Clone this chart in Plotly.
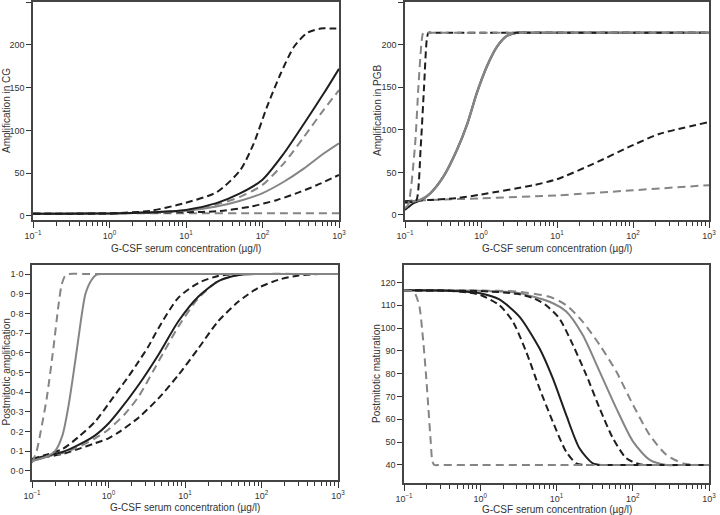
import plotly.graph_objects as go

# ---------------- Panel A: Amplification in CG ----------------
cg_bd_hi_x = [0.1, 0.3, 1, 3.4, 9.3, 25.5, 51.6, 77, 115, 173, 258, 386, 578, 800, 1000]
cg_bd_hi_y = [2.5, 2.7, 3, 6, 14.8, 28, 54, 85, 128, 166.5, 197.7, 214, 219, 219, 219]
cg_bs_x = [0.1, 0.3, 1, 3, 10, 25, 50, 99, 190, 350, 630, 1000]
cg_bs_y = [2.5, 2.7, 3, 4, 7, 15, 26, 42, 73, 108, 143, 172]
cg_gd_hi_x = [0.1, 0.3, 1, 3, 10, 25, 50, 99, 190, 350, 630, 1000]
cg_gd_hi_y = [2.5, 2.7, 3, 4, 6.5, 13.5, 22, 36, 61.5, 92.6, 124, 147]
cg_gs_x = [0.1, 0.3, 1, 3, 10, 25, 50, 99, 190, 350, 630, 1000]
cg_gs_y = [2.5, 2.7, 3, 4, 6, 11, 17.5, 26.5, 40, 55.6, 73, 85]
cg_bd_lo_x = [0.1, 0.3, 1, 3, 10, 25.5, 70, 155, 316, 578, 1000]
cg_bd_lo_y = [2.5, 2.7, 3, 3.8, 4.5, 5.5, 11, 18.7, 28.4, 38, 48]
cg_gd_lo_x = [0.1, 1, 10, 100, 1000]
cg_gd_lo_y = [2.5, 3, 3.2, 3.3, 3.3]

# ---------------- Panel B: Amplification in PGB ----------------
pgb_gd_st_x = [0.1, 0.11, 0.135, 0.15, 0.166, 0.174, 0.19, 0.25, 1, 10, 100, 1000]
pgb_gd_st_y = [8, 12, 80, 150, 205, 214, 214, 214, 214, 214, 214, 214]
pgb_bd_st_x = [0.1, 0.13, 0.142, 0.161, 0.178, 0.193, 0.203, 0.22, 0.3, 1, 10, 100, 1000]
pgb_bd_st_y = [15, 15.5, 17.6, 80, 150, 205, 214, 214, 214, 214, 214, 214, 214]
pgb_bs_x = [0.1, 0.11, 0.13, 0.16, 0.213, 0.32, 0.48, 0.66, 0.88, 1.19, 1.61, 2.17, 2.94, 4, 8, 30, 100, 1000]
pgb_bs_y = [6, 9, 14, 17, 25, 45, 76, 107, 143, 174, 197, 210, 214, 214, 214, 214, 214, 214]
pgb_gs_x = [0.1, 0.11, 0.13, 0.16, 0.213, 0.32, 0.48, 0.66, 0.88, 1.19, 1.61, 2.17, 2.94, 4, 8, 30, 100, 1000]
pgb_gs_y = [14, 15, 16, 18, 25, 45, 76, 107, 143, 174, 197, 210, 214, 214, 214, 214, 214, 214]
pgb_bd_lo_x = [0.1, 0.15, 0.213, 0.5, 1, 4.9, 10, 30, 100, 220, 1000]
pgb_bd_lo_y = [16, 17, 17.6, 20, 24, 35, 42, 60, 82, 95, 109]
pgb_gd_lo_x = [0.1, 0.15, 0.213, 1, 10, 100, 1000]
pgb_gd_lo_y = [16, 17, 17.6, 19.5, 23, 29, 35]

# ---------------- Panel C: Postmitotic amplification ----------------
pa_gd_st_x = [0.1, 0.115, 0.13, 0.156, 0.19, 0.22, 0.244, 0.27, 0.3, 0.5, 1000]
pa_gd_st_y = [0.04, 0.1, 0.2, 0.37, 0.62, 0.83, 0.945, 0.99, 1.0, 1.0, 1.0]
pa_gs_st_x = [0.1, 0.15, 0.2, 0.25, 0.3, 0.35, 0.4, 0.45, 0.5, 0.6, 0.7, 0.85, 2, 1000]
pa_gs_st_y = [0.05, 0.07, 0.1, 0.18, 0.33, 0.5, 0.66, 0.8, 0.9, 0.97, 0.997, 1.0, 1.0, 1.0]
pa_bd_l_x = [0.1, 0.15, 0.25, 0.4, 0.67, 1, 1.35, 1.83, 2.47, 3.3, 4.5, 8.2, 15, 27, 43, 70, 1000]
pa_bd_l_y = [0.06, 0.08, 0.11, 0.17, 0.25, 0.34, 0.41, 0.48, 0.555, 0.63, 0.725, 0.88, 0.955, 0.99, 0.999, 1.0, 1.0]
pa_bs_x = [0.1, 0.15, 0.25, 0.4, 0.67, 1, 1.35, 2.47, 4.5, 8.2, 15, 27, 43, 65, 100, 1000]
pa_bs_y = [0.06, 0.075, 0.095, 0.13, 0.18, 0.24, 0.30, 0.436, 0.59, 0.76, 0.886, 0.963, 0.99, 0.999, 1.0, 1.0]
pa_gd_m_x = [0.1, 0.15, 0.25, 0.4, 0.67, 1, 1.65, 2.47, 4.5, 8.2, 15, 27, 50, 80, 1000]
pa_gd_m_y = [0.05, 0.07, 0.09, 0.12, 0.165, 0.21, 0.29, 0.377, 0.555, 0.733, 0.878, 0.963, 0.995, 1.0, 1.0]
pa_bd_r_x = [0.1, 0.15, 0.25, 0.4, 0.67, 1, 1.35, 2.47, 4.5, 8.2, 15, 27, 50, 91, 167, 305, 560, 1000]
pa_bd_r_y = [0.06, 0.07, 0.085, 0.11, 0.14, 0.165, 0.195, 0.27, 0.368, 0.487, 0.623, 0.759, 0.86, 0.93, 0.971, 0.993, 1.0, 1.0]

# ---------------- Panel D: Postmitotic maturation ----------------
pm_gd_st_x = [0.1, 0.12, 0.135, 0.158, 0.174, 0.193, 0.209, 0.224, 0.236, 0.25, 0.3, 1, 10, 1000]
pm_gd_st_y = [116.5, 116.3, 115.9, 110, 98.4, 80.9, 64.8, 50.2, 41.5, 40, 40, 40, 40, 40]
pm_bd_l_x = [0.1, 0.3, 0.6, 1, 1.78, 2.66, 4.0, 5.98, 8.93, 13.4, 18.2, 25, 40, 100, 1000]
pm_bd_l_y = [116.5, 116.4, 115.8, 114.5, 110, 103, 89.6, 73.6, 59, 45.8, 40.7, 40, 40, 40, 40]
pm_bs_x = [0.1, 0.3, 0.6, 1, 1.78, 3.26, 5.98, 8.93, 13.4, 20, 30, 40, 60, 200, 1000]
pm_bs_y = [116.5, 116.4, 116, 115.2, 112.5, 105, 91.1, 78, 61.9, 47.3, 40.7, 40, 40, 40, 40]
pm_bd_r_x = [0.1, 0.3, 1, 3, 5, 7.3, 10.9, 16.4, 24.6, 36.8, 55, 82.5, 123, 200, 1000]
pm_bd_r_y = [116.5, 116.4, 116.2, 115, 113, 110, 104.2, 92.6, 79.4, 64.8, 51.7, 42.9, 40.3, 40, 40]
pm_gs_x = [0.1, 0.3, 1, 3, 8.1, 13.4, 22, 36.8, 60.9, 101, 167, 277, 450, 1000]
pm_gs_y = [116.5, 116.4, 116.3, 115.5, 111.5, 107.2, 97, 80.9, 64.8, 50.2, 42.2, 40, 40, 40]
pm_gd_r_x = [0.1, 0.3, 1, 3, 8.1, 13.4, 22, 36.8, 60.9, 101, 167, 277, 459, 700, 1000]
pm_gd_r_y = [116.5, 116.5, 116.4, 116, 113.7, 110, 102.8, 92.6, 80.9, 66.3, 53.1, 44.4, 40.7, 40, 40]

# ---------------- Axis labels ----------------
x_tick_vals = [0.1, 1, 10, 100, 1000]
x_tick_text = ["10<sup>\u22121</sup>", "10<sup>0</sup>", "10<sup>1</sup>", "10<sup>2</sup>", "10<sup>3</sup>"]
x_title = "G-CSF serum concentration (\u00b5g/l)"
y_titles = ["Amplification in CG", "Amplification in PGB", "Postmitotic amplification", "Postmitotic maturation"]
amp_ticks = [0, 50, 100, 150, 200, 250]
pa_ticks = [i / 10 for i in range(11)]
pa_tick_text = ["0\u00b7%d" % i for i in range(10)] + ["1\u00b70"]
pm_ticks = [40, 50, 60, 70, 80, 90, 100, 110, 120]

BLACK = "#1e1e1e"
GRAY = "#858585"
BD = "7px,4px"
GD = "8px,5px"

W, H = 720, 515
fig = go.Figure()

panels = [
    ("x", "y", [
        (cg_gd_lo_x, cg_gd_lo_y, GRAY, GD, 2),
        (cg_bd_lo_x, cg_bd_lo_y, BLACK, BD, 2),
        (cg_gs_x, cg_gs_y, GRAY, "solid", 2),
        (cg_gd_hi_x, cg_gd_hi_y, GRAY, GD, 2),
        (cg_bs_x, cg_bs_y, BLACK, "solid", 2),
        (cg_bd_hi_x, cg_bd_hi_y, BLACK, BD, 2),
    ]),
    ("x2", "y2", [
        (pgb_gd_lo_x, pgb_gd_lo_y, GRAY, GD, 2),
        (pgb_bd_lo_x, pgb_bd_lo_y, BLACK, BD, 2),
        (pgb_bs_x, pgb_bs_y, BLACK, "solid", 2),
        (pgb_gs_x, pgb_gs_y, GRAY, "solid", 2.5),
        (pgb_bd_st_x, pgb_bd_st_y, BLACK, BD, 2),
        (pgb_gd_st_x, pgb_gd_st_y, GRAY, GD, 2),
    ]),
    ("x3", "y3", [
        (pa_bd_r_x, pa_bd_r_y, BLACK, BD, 2),
        (pa_gd_m_x, pa_gd_m_y, GRAY, GD, 2),
        (pa_bs_x, pa_bs_y, BLACK, "solid", 2),
        (pa_bd_l_x, pa_bd_l_y, BLACK, BD, 2),
        (pa_gs_st_x, pa_gs_st_y, GRAY, "solid", 2),
        (pa_gd_st_x, pa_gd_st_y, GRAY, GD, 2),
    ]),
    ("x4", "y4", [
        (pm_gd_r_x, pm_gd_r_y, GRAY, GD, 2),
        (pm_gs_x, pm_gs_y, GRAY, "solid", 2),
        (pm_bd_r_x, pm_bd_r_y, BLACK, BD, 2),
        (pm_bs_x, pm_bs_y, BLACK, "solid", 2),
        (pm_bd_l_x, pm_bd_l_y, BLACK, BD, 2),
        (pm_gd_st_x, pm_gd_st_y, GRAY, GD, 2),
    ]),
]

for xa, ya, curves in panels:
    for cx, cy, col, dash, wd in curves:
        fig.add_trace(go.Scatter(
            x=cx, y=cy, xaxis=xa, yaxis=ya, mode="lines",
            line=dict(color=col, dash=dash, width=wd, shape="spline", smoothing=0.7),
            showlegend=False, hoverinfo="skip"))

# pixel boxes (left, right, top, bottom)
boxes = [(33, 339, 2, 220), (405, 709, 2, 220), (32, 338, 265, 480), (404, 709, 265, 483)]
yranges = [[-4.7, 250], [-5.9, 250], [-0.047, 1.046], [32.1, 127.6]]
ytickspecs = [
    dict(tickvals=amp_ticks, ticktext=[str(v) for v in amp_ticks]),
    dict(tickvals=amp_ticks, ticktext=[str(v) for v in amp_ticks]),
    dict(tickvals=pa_ticks, ticktext=pa_tick_text),
    dict(tickvals=pm_ticks, ticktext=[str(v) for v in pm_ticks]),
]
xtitle_y = [248, 248, 507, 509]
ytitle_x = [6, 377, 6, 376]
minor_vals = [m * 10 ** e for e in range(-1, 3) for m in range(2, 10)]

FAM = "Liberation Sans, Arial, sans-serif"
font = dict(family=FAM, size=9, color="#333")
tfont = dict(family=FAM, size=10, color="#333")
layout = {}
annotations = []
for i, ((l, r, t, b), yr, ys, yt) in enumerate(zip(boxes, yranges, ytickspecs, y_titles)):
    sfx = "" if i == 0 else str(i + 1)
    layout["xaxis" + sfx] = dict(
        type="log", range=[-1, 3], domain=[l / W, r / W], anchor="y" + sfx,
        tickmode="array", tickvals=x_tick_vals, ticktext=x_tick_text,
        ticks="outside", ticklen=6, tickwidth=1.2, tickcolor="#333",
        minor=dict(tickmode="array", tickvals=minor_vals, ticks="outside", ticklen=4, tickwidth=1, tickcolor="#333"),
        showline=True, linecolor="#444", linewidth=1.5, mirror=True,
        showgrid=False, zeroline=False, tickfont=font, automargin=False,
    )
    layout["yaxis" + sfx] = dict(
        range=yr, domain=[1 - b / H, 1 - t / H], anchor="x" + sfx,
        tickmode="array", **ys,
        ticks="outside", ticklen=5, tickwidth=1.2, tickcolor="#333",
        showline=True, linecolor="#444", linewidth=1.5, mirror=True,
        showgrid=False, zeroline=False, tickfont=font, automargin=False,
    )
    annotations.append(dict(
        text=x_title, xref="paper", yref="paper", x=(l + r) / 2 / W, y=1 - xtitle_y[i] / H,
        xanchor="center", yanchor="middle", showarrow=False, font=tfont))
    annotations.append(dict(
        text=yt, xref="paper", yref="paper", x=ytitle_x[i] / W, y=1 - (t + b) / 2 / H,
        xanchor="center", yanchor="middle", textangle=-90, showarrow=False, font=tfont))

fig.update_layout(
    width=W, height=H, margin=dict(l=0, r=0, t=0, b=0, autoexpand=False),
    paper_bgcolor="white", plot_bgcolor="white", showlegend=False,
    annotations=annotations,
    **layout,
)

fig.write_html(
    "out.html",
    config={"displayModeBar": False},
    post_script="document.body.style.margin='0';document.body.style.overflow='hidden';",
)
